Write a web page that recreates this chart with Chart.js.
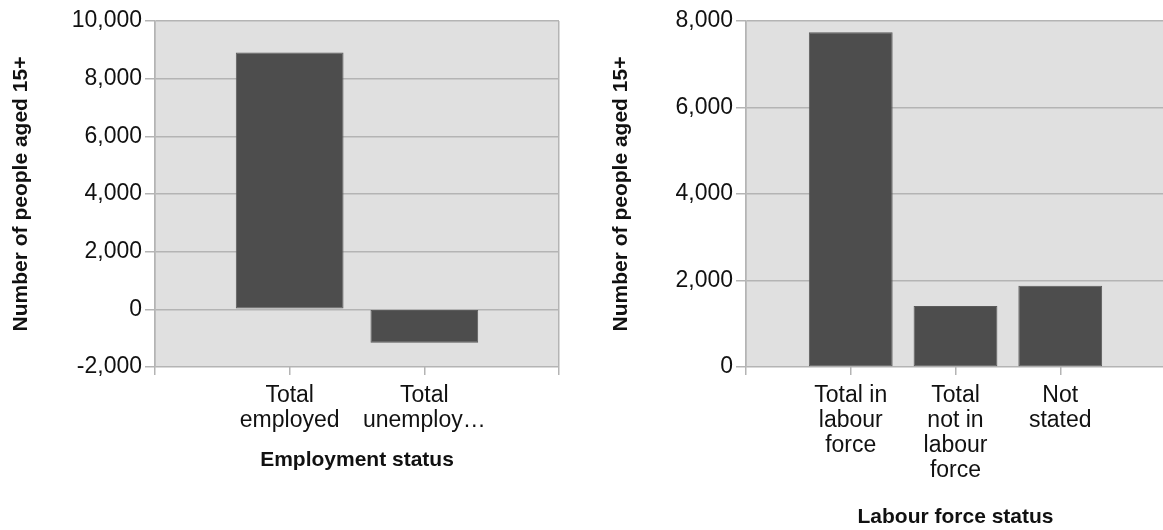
<!DOCTYPE html>
<html>
<head>
<meta charset="utf-8">
<script src="https://cdn.jsdelivr.net/npm/chart.js@4.4.1/dist/chart.umd.min.js"></script>
<style>
  html, body { margin: 0; padding: 0; background: #fff; overflow: hidden; width: 1163px; height: 530px; }
  .box { position: absolute; top: 0; height: 530px; }
  #boxEmp { left: 0; width: 580px; }
  #boxLf { left: 600px; width: 600px; }
</style>
</head>
<body>
<div class="box" id="boxEmp"><canvas id="chartEmp"></canvas></div>
<div class="box" id="boxLf"><canvas id="chartLf"></canvas></div>
<script>
// Datos - estado de empleo
const empLabels = [['Total', 'employed'], ['Total', 'unemploy…']];
const empValues = [8905, -1160];
const empTicks = [-2000, 0, 2000, 4000, 6000, 8000, 10000];

// Datos - fuerza laboral
const lfLabels = [['Total in', 'labour', 'force'], ['Total', 'not in', 'labour', 'force'], ['Not', 'stated']];
const lfValues = [7740, 1410, 1880];
const lfTicks = [0, 2000, 4000, 6000, 8000];

const yTitle = 'Number of people aged 15+';
const GRIS = '#b4b4b4';
const FONDO = '#e0e0e0';
const TEXTO = '#111';

Chart.defaults.font.family = '"Liberation Sans", Arial, sans-serif';
Chart.defaults.color = TEXTO;

// Fondo gris del área del gráfico
const fondoPlugin = {
  id: 'fondo',
  beforeDraw(chart) {
    const { ctx, chartArea: a } = chart;
    ctx.save();
    ctx.fillStyle = FONDO;
    ctx.fillRect(a.left, a.top, a.right - a.left, a.bottom - a.top);
    ctx.restore();
  }
};

function crearGrafico(id, labels, values, ticks, xTitle, opts) {
  // huecos vacíos a cada lado, como en el original
  const etiquetas = [''].concat(labels, ['']);
  const datos = [null].concat(values, [null]);
  const ultimo = etiquetas.length - 1;

  return new Chart(document.getElementById(id), {
    type: 'bar',
    data: {
      labels: etiquetas,
      datasets: [{
        data: datos,
        backgroundColor: '#4d4d4d',
        borderColor: '#5a5a5a',
        borderWidth: 1,
        borderSkipped: false,
        barPercentage: 0.8,
        categoryPercentage: 1.0
      }]
    },
    options: {
      responsive: true,
      maintainAspectRatio: false,
      animation: false,
      layout: { padding: { top: 21, right: opts.padRight, bottom: opts.padBottom, left: 0 } },
      plugins: { legend: { display: false }, tooltip: { enabled: false } },
      scales: {
        x: {
          offset: false,
          grid: {
            offset: false,
            drawOnChartArea: true,
            color: c => (c.index === 0 || c.index === ultimo) ? GRIS : 'rgba(0,0,0,0)',
            tickColor: GRIS,
            tickLength: 8,
            lineWidth: 1.5
          },
          border: { display: false },
          ticks: {
            autoSkip: false,
            maxRotation: 0,
            padding: 8,
            font: { size: 23, lineHeight: 1.09 },
            color: TEXTO
          },
          title: {
            display: true,
            text: xTitle,
            font: { size: 21, weight: 'bold' },
            color: TEXTO,
            padding: { top: 4, bottom: 0 }
          },
          afterFit: s => { s.height = opts.xHeight; }
        },
        y: {
          min: ticks[0],
          max: ticks[ticks.length - 1],
          afterBuildTicks: s => { s.ticks = ticks.map(v => ({ value: v })); },
          grid: { color: GRIS, tickLength: 10, lineWidth: 1.5 },
          border: { display: true, color: GRIS, width: 1.5 },
          ticks: {
            padding: 3,
            font: { size: 23 },
            color: TEXTO,
            callback: v => v.toLocaleString('en-US')
          },
          title: {
            display: true,
            text: yTitle,
            font: { size: 21, weight: 'bold' },
            color: TEXTO,
            padding: { top: 9, bottom: 0 }
          },
          afterFit: s => { s.width = opts.yWidth; }
        }
      }
    },
    plugins: [fondoPlugin]
  });
}

crearGrafico('chartEmp', empLabels, empValues, empTicks, 'Employment status',
  { yWidth: 155, padRight: 21, xHeight: 106, padBottom: 57 });
crearGrafico('chartLf', lfLabels, lfValues, lfTicks, 'Labour force status',
  { yWidth: 146, padRight: 35, xHeight: 163, padBottom: 0 });
</script>
</body>
</html>
